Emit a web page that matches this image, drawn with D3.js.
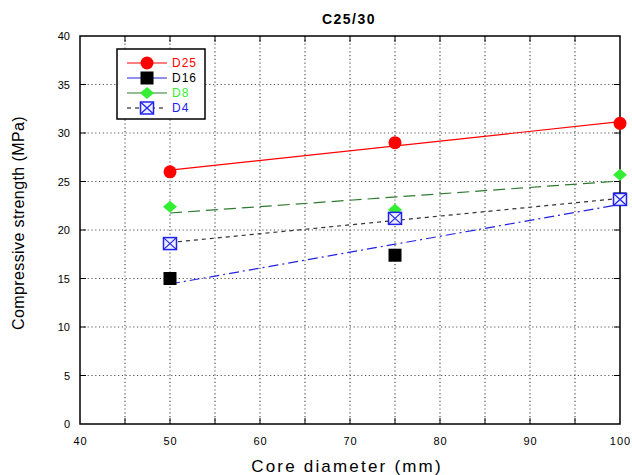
<!DOCTYPE html>
<html>
<head>
<meta charset="utf-8">
<script src="https://cdn.jsdelivr.net/npm/d3@7"></script>
<style>
  body { margin: 0; background: #fff; }
  svg { display: block; font-family: "Liberation Sans", Arial, sans-serif; }
</style>
</head>
<body>
<div id="chart"></div>
<script>
// data
const diameters = [50, 75, 100];
const d25 = [26.0, 29.0, 31.0];
const d16 = [15.0, 17.4, 23.2];
const d8 = [22.4, 22.1, 25.7];
const d4 = [18.6, 21.2, 23.15];
const xTicks = [40, 50, 60, 70, 80, 90, 100];
const yTicks = [0, 5, 10, 15, 20, 25, 30, 35, 40];
const gridX = [45, 50, 55, 60, 65, 70, 75, 80, 85, 90, 95];
const gridY = [5, 10, 15, 20, 25, 30, 35];

const W = 632, H = 475;
const margin = { top: 36, right: 12, bottom: 51, left: 80 };

const svg = d3.select("#chart").append("svg")
    .attr("width", W).attr("height", H);

const x = d3.scaleLinear().domain([40, 100]).range([margin.left, W - margin.right]);
const y = d3.scaleLinear().domain([0, 40]).range([H - margin.bottom, margin.top]);

// dotted grid
svg.append("g").selectAll("line").data(gridX).join("line")
    .attr("x1", d => x(d)).attr("x2", d => x(d))
    .attr("y1", y(40)).attr("y2", y(0))
    .attr("stroke", "#555").attr("stroke-width", 1.2)
    .attr("stroke-dasharray", "1.2,2.6");
svg.append("g").selectAll("line").data(gridY).join("line")
    .attr("y1", d => y(d)).attr("y2", d => y(d))
    .attr("x1", x(40)).attr("x2", x(100))
    .attr("stroke", "#555").attr("stroke-width", 1.2)
    .attr("stroke-dasharray", "1.2,2.6");

// inward ticks on all four sides
const tk = 6;
svg.append("g").selectAll("line").data(gridY).join("line")
    .attr("x1", x(40)).attr("x2", x(40) + tk)
    .attr("y1", d => y(d)).attr("y2", d => y(d)).attr("stroke", "#000");
svg.append("g").selectAll("line").data(gridY).join("line")
    .attr("x1", x(100)).attr("x2", x(100) - tk)
    .attr("y1", d => y(d)).attr("y2", d => y(d)).attr("stroke", "#000");
svg.append("g").selectAll("line").data(gridX).join("line")
    .attr("x1", d => x(d)).attr("x2", d => x(d))
    .attr("y1", y(0)).attr("y2", y(0) - tk).attr("stroke", "#000");
svg.append("g").selectAll("line").data(gridX).join("line")
    .attr("x1", d => x(d)).attr("x2", d => x(d))
    .attr("y1", y(40)).attr("y2", y(40) + tk).attr("stroke", "#000");

// frame
svg.append("rect")
    .attr("x", x(40)).attr("y", y(40))
    .attr("width", x(100) - x(40)).attr("height", y(0) - y(40))
    .attr("fill", "none").attr("stroke", "#000").attr("stroke-width", 1.5);

// axes labels (ticks done by hand above, labels through d3 axes)
const yAxis = svg.append("g")
    .attr("transform", `translate(${x(40)},0)`)
    .call(d3.axisLeft(y).tickValues(yTicks).tickSize(0).tickPadding(10));
yAxis.select(".domain").remove();
yAxis.selectAll("text").style("font-size", "11px")
    .style("font-family", "Liberation Sans, Arial, sans-serif").attr("fill", "#000");

const xAxis = svg.append("g")
    .attr("transform", `translate(0,${y(0)})`)
    .call(d3.axisBottom(x).tickValues(xTicks).tickSize(0).tickPadding(13));
xAxis.select(".domain").remove();
xAxis.selectAll("text").style("font-size", "11px").style("letter-spacing", "1px")
    .style("font-family", "Liberation Sans, Arial, sans-serif").attr("fill", "#000");

svg.append("text")
    .attr("x", 349).attr("y", 24)
    .attr("text-anchor", "middle")
    .style("font-size", "14px").style("font-weight", "bold").style("letter-spacing", "1.5px")
    .text("C25/30");

svg.append("text")
    .attr("x", 347).attr("y", 472)
    .attr("text-anchor", "middle")
    .style("font-size", "17px").style("letter-spacing", "2.2px")
    .text("Core diameter (mm)");

svg.append("text")
    .attr("transform", "translate(24,223) rotate(-90)")
    .attr("text-anchor", "middle")
    .style("font-size", "16px").style("letter-spacing", "0.4px")
    .text("Compressive strength (MPa)");

// series
const series = [
    { name: "D25", values: d25, line: "#ff0000", dash: null, marker: "circle", text: "#ff0000" },
    { name: "D16", values: d16, line: "#2323e0", dash: "10,4,2,4", marker: "square", text: "#000" },
    { name: "D8", values: d8, line: "#2f7a2f", dash: "12,6", marker: "diamond", text: "#33ee33" },
    { name: "D4", values: d4, line: "#333", dash: "4,4", marker: "box", text: "#2222ee" }
];

// least squares trend line for each series
function fit(vals) {
    const mx = d3.mean(diameters), my = d3.mean(vals);
    const num = d3.sum(diameters, (d, i) => (d - mx) * (vals[i] - my));
    const den = d3.sum(diameters, d => (d - mx) * (d - mx));
    const b = num / den;
    return xv => my + b * (xv - mx);
}

function drawMarker(g, type) {
    if (type === "circle") {
        g.append("circle").attr("r", 6.5).attr("fill", "#ff0000");
    } else if (type === "square") {
        g.append("rect").attr("x", -6.5).attr("y", -6.5).attr("width", 13).attr("height", 13).attr("fill", "#000");
    } else if (type === "diamond") {
        g.append("path").attr("d", "M0,-6 L7,0 L0,6 L-7,0Z").attr("fill", "#33ee33");
    } else {
        g.append("rect").attr("x", -6.5).attr("y", -6).attr("width", 13).attr("height", 12)
            .attr("fill", "#eef0ff").attr("stroke", "#2222ee").attr("stroke-width", 1.5);
        g.append("path").attr("d", "M-6,-5.5 L6,5.5 M6,-5.5 L-6,5.5")
            .attr("stroke", "#2222ee").attr("stroke-width", 1.2);
    }
}

const line = d3.line().x(d => x(d[0])).y(d => y(d[1]));

series.forEach(s => {
    const f = fit(s.values);
    svg.append("path")
        .datum([[50, f(50)], [100, f(100)]])
        .attr("d", line)
        .attr("fill", "none").attr("stroke", s.line).attr("stroke-width", 1.2)
        .attr("stroke-dasharray", s.dash);
});

// draw markers: D25, D16, D8, D4 order (D4 on top)
series.forEach(s => {
    svg.append("g").selectAll("g").data(s.values).join("g")
        .attr("transform", (d, i) => `translate(${x(diameters[i])},${y(d)})`)
        .each(function () { drawMarker(d3.select(this), s.marker); });
});

// legend
const leg = svg.append("g");
leg.append("rect").attr("x", 117).attr("y", 49).attr("width", 88).attr("height", 70)
    .attr("fill", "#fff").attr("stroke", "#000").attr("stroke-width", 1.5);
const legY = d3.scalePoint().domain(series.map(s => s.name)).range([63, 108]);
series.forEach(s => {
    const yy = legY(s.name);
    leg.append("line").attr("x1", 127).attr("x2", 167).attr("y1", yy).attr("y2", yy)
        .attr("stroke", s.marker === "box" ? "#000" : (s.marker === "square" ? "#2323e0" : s.line))
        .attr("stroke-width", 1.2)
        .attr("stroke-dasharray", s.marker === "box" ? "4,4" : null);
    const m = leg.append("g").attr("transform", `translate(147,${yy})`);
    drawMarker(m, s.marker);
    leg.append("text").attr("x", 172).attr("y", yy + 4)
        .attr("fill", s.text).style("font-size", "12px").style("letter-spacing", "1px")
        .text(s.name);
});
</script>
</body>
</html>
